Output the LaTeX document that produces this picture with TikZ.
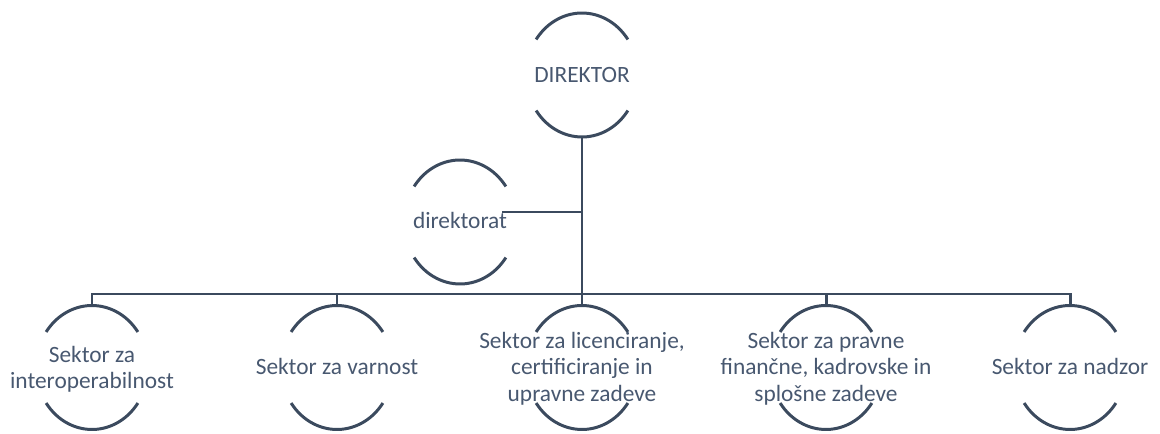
\documentclass[tikz,border=0pt]{standalone}
\usepackage{fontspec}
\setmainfont{Carlito}
\usetikzlibrary{shapes.geometric}
\definecolor{linec}{HTML}{3B4A5E}
\definecolor{textc}{HTML}{485870}
\tikzset{
  ring/.style={shape=ellipse, draw=none, inner sep=0pt, minimum width=2.24cm, minimum height=2.48cm},
  lbl/.style={text=textc, align=center, inner sep=0pt, font=\fontsize{13.3}{15}\selectfont},
  ringline/.style={draw=linec, line width=1.7pt},
  conn/.style={draw=linec, line width=1.7pt}
}
\newcommand\ringarcs[1]{%
  \draw[ringline] ([shift={(35:1.12cm and 1.24cm)}]#1.center) arc[start angle=35,end angle=145,x radius=1.12cm,y radius=1.24cm];
  \draw[ringline] ([shift={(215:1.12cm and 1.24cm)}]#1.center) arc[start angle=215,end angle=325,x radius=1.12cm,y radius=1.24cm];}
\begin{document}
\begin{tikzpicture}[x=0.02cm,y=0.02cm]
\useasboundingbox (0,0) rectangle (1160,433);
% rings
\node[ring] (d) at (582,358) {};
\node[ring] (dt) at (460,211) {};
\node[ring] (s1) at (92,65.5) {};
\node[ring] (s2) at (337,65.5) {};
\node[ring] (s3) at (582,65.5) {};
\node[ring] (s4) at (826,65.5) {};
\node[ring] (s5) at (1070,65.5) {};
\foreach \n in {d,dt,s1,s2,s3,s4,s5}{\ringarcs{\n}}
% texts
\node[lbl] (td) at (d) {DIREKTOR};
\node[lbl] (tdt) at (460,212.5) {direktorat};
\node[lbl] (t1) at (92,64) {Sektor za\\interoperabilnost};
\node[lbl] (t2) at (337,67) {Sektor za varnost};
\node[lbl] (t3) at (582,64.5) {Sektor za licenciranje,\\certificiranje in\\upravne zadeve};
\node[lbl] (t4) at (826,64.5) {Sektor za pravne\\finančne, kadrovske in\\splošne zadeve};
\node[lbl] (t5) at (1070,67) {Sektor za nadzor};
% connectors
\coordinate (bus) at (0,139);
\coordinate (dtend) at (502,221);
\draw[conn] (d.south) -- (s3.north);
\draw[conn] (dtend) -- (dtend -| d.south);
\draw[conn] (s1.north) -- (s1.north |- bus) -- (s5.north |- bus) -- (s5.north);
\draw[conn] (s2.north) -- (s2.north |- bus);
\draw[conn] (s4.north) -- (s4.north |- bus);
\end{tikzpicture}
\end{document}
